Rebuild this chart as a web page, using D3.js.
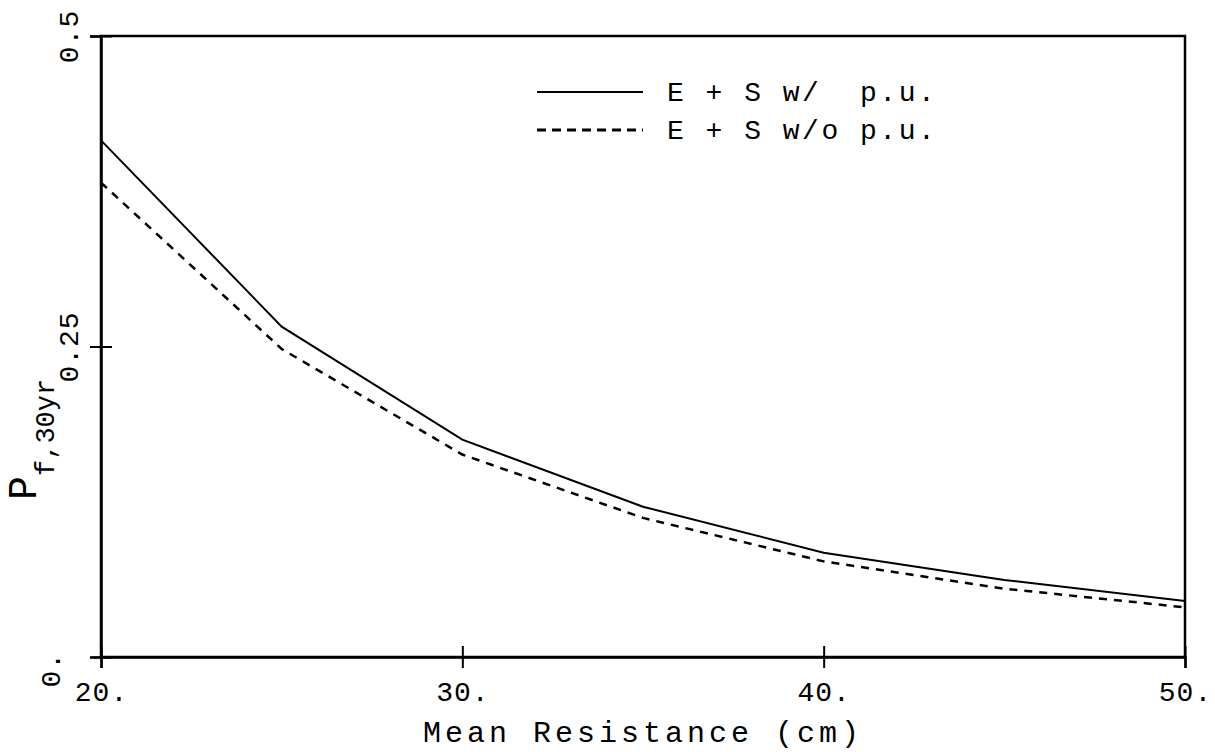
<!DOCTYPE html>
<html>
<head>
<meta charset="utf-8">
<script src="https://cdn.jsdelivr.net/npm/d3@7"></script>
<style>
    body { margin: 0; background: #fff; }
    svg { display: block; }
    text { font-family: "Liberation Mono", "DejaVu Sans Mono", monospace; fill: #000; }
</style>
</head>
<body>
<div id="chart"></div>
<script>
// mean resistance values (cm)
const resistance = [20, 25, 30, 35, 40, 45, 50];
// probability of failure over 30 years
const withPU = [0.416, 0.266, 0.175, 0.121, 0.084, 0.062, 0.045];
const withoutPU = [0.382, 0.248, 0.163, 0.112, 0.077, 0.055, 0.040];

const xTicks = [20, 30, 40, 50];
const xTickLabels = ['20.', '30.', '40.', '50.'];
const yTicks = [0, 0.25, 0.5];
const yTickLabels = ['0.', '0.25', '0.5'];

const seriesNames = ['E + S w/  p.u.', 'E + S w/o p.u.'];

const W = 1215, H = 752;
const margin = { top: 36, right: 30, bottom: 95, left: 101 };
const width = W - margin.left - margin.right;
const height = H - margin.top - margin.bottom;

const svg = d3.select('#chart')
    .append('svg')
    .attr('width', W)
    .attr('height', H);

const g = svg.append('g')
    .attr('transform', `translate(${margin.left},${margin.top})`);

const x = d3.scaleLinear().domain([20, 50]).range([0, width]);
const y = d3.scaleLinear().domain([0, 0.5]).range([height, 0]);

// frame
g.append('rect')
    .attr('width', width)
    .attr('height', height)
    .attr('fill', 'none')
    .attr('stroke', '#000')
    .attr('stroke-width', 2.5);

// x axis, ticks cross the line
const xAxis = d3.axisBottom(x)
    .tickValues(xTicks)
    .tickFormat((d, i) => xTickLabels[i])
    .tickSize(11);

g.append('g')
    .attr('class', 'x-axis')
    .attr('transform', `translate(0,${height})`)
    .call(xAxis)
    .call(a => a.select('.domain').attr('stroke-width', 2.5))
    .call(a => a.selectAll('.tick line').attr('y1', -11).attr('stroke-width', 2))
    .call(a => a.selectAll('.tick text')
        .attr('y', 44)
        .attr('dy', 0)
        .style('font-size', '28px')
        .style('letter-spacing', '1px'));

// y axis, labels rotated
const yAxis = d3.axisLeft(y)
    .tickValues(yTicks)
    .tickFormat((d, i) => yTickLabels[i])
    .tickSize(11);

g.append('g')
    .attr('class', 'y-axis')
    .call(yAxis)
    .call(a => a.select('.domain').attr('stroke-width', 2.5))
    .call(a => a.selectAll('.tick line').attr('x1', 11).attr('stroke-width', 2))
    .call(a => a.selectAll('.tick text')
        .attr('x', 0).attr('y', 0).attr('dy', 0)
        .attr('text-anchor', d => d === 0 ? 'start' : 'middle')
        .attr('transform', d => d === 0 ? 'translate(-41,30) rotate(-90)' : 'translate(-23,0) rotate(-90)')
        .style('font-size', '28px')
        .style('letter-spacing', '1px'));

// lines
const line = d3.line()
    .x((d, i) => x(resistance[i]))
    .y(d => y(d));

g.append('path')
    .datum(withPU)
    .attr('d', line)
    .attr('fill', 'none')
    .attr('stroke', '#000')
    .attr('stroke-width', 2);

g.append('path')
    .datum(withoutPU)
    .attr('d', line)
    .attr('fill', 'none')
    .attr('stroke', '#000')
    .attr('stroke-width', 2.5)
    .attr('stroke-dasharray', '8,7');

// legend
const legend = svg.append('g')
    .attr('transform', 'translate(537,92)');

legend.selectAll('g')
    .data(seriesNames)
    .join('g')
    .attr('transform', (d, i) => `translate(0,${i * 38})`)
    .each(function (d, i) {
        const row = d3.select(this);
        row.append('line')
            .attr('x1', 0).attr('x2', 106)
            .attr('stroke', '#000')
            .attr('stroke-width', i === 0 ? 2 : 3)
            .attr('stroke-dasharray', i === 0 ? null : '9,6');
        row.append('text')
            .attr('x', 130)
            .attr('y', 9)
            .style('font-size', '28px')
            .style('letter-spacing', '2.5px')
            .style('white-space', 'pre')
            .text(d);
    });

// axis titles
svg.append('text')
    .attr('x', margin.left + width / 2)
    .attr('y', 742)
    .attr('text-anchor', 'middle')
    .style('font-size', '30px')
    .style('letter-spacing', '4px')
    .text('Mean Resistance (cm)');

const yTitle = svg.append('text')
    .attr('transform', 'translate(36,500) rotate(-90)')
    .attr('text-anchor', 'start');
yTitle.append('tspan')
    .style('font-size', '40px')
    .text('P');
yTitle.append('tspan')
    .attr('dy', 18)
    .style('font-size', '27px')
    .text('f,30yr');
</script>
</body>
</html>
